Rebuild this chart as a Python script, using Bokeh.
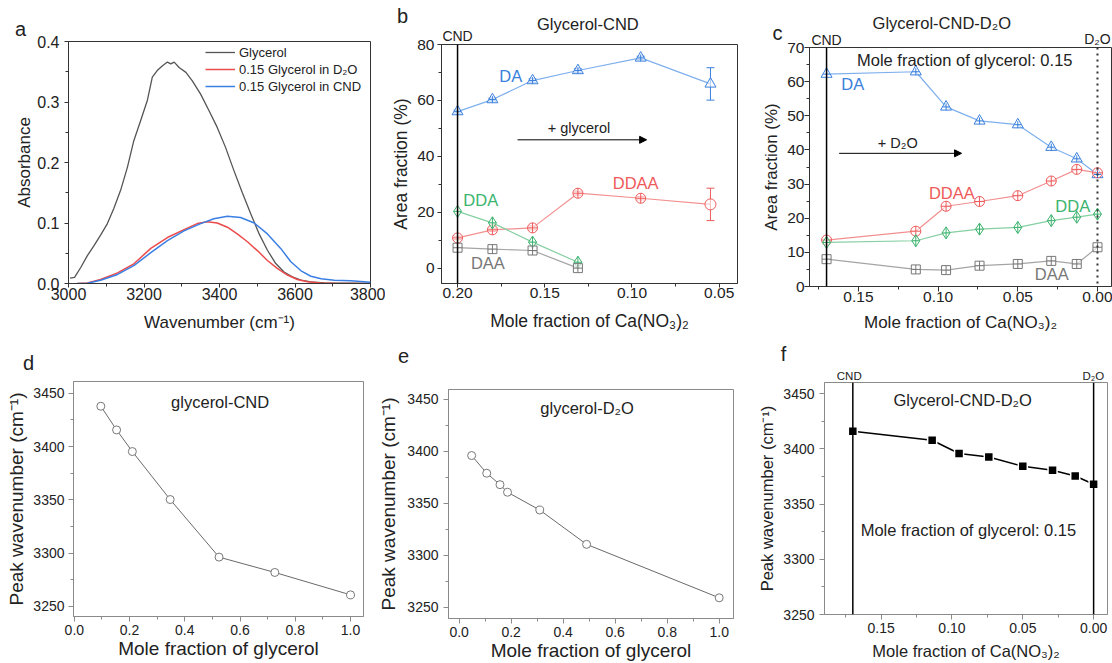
from bokeh.plotting import figure
from bokeh.layouts import column, row
from bokeh.models import (Range1d, Span, Label, Arrow, NormalHead, Whisker, TeeHead,
                          ColumnDataSource, SingleIntervalTicker, NumeralTickFormatter,
                          Legend, LegendItem)
from bokeh.embed import file_html
from bokeh.resources import INLINE

FONT = "Liberation Sans"
PAGE_W, PAGE_H = 1112, 663

# ---------------- data ----------------
# panel a : FTIR spectra
wn_gly = [3004, 3016, 3032, 3050, 3068, 3085, 3103, 3120, 3138, 3156, 3173, 3191, 3209, 3222,
          3235, 3249, 3262, 3271, 3280, 3293, 3311, 3328, 3350, 3372, 3394, 3416, 3438, 3460,
          3483, 3505, 3527, 3549, 3571, 3593, 3616, 3642, 3677, 3748, 3800]
abs_gly = [0.009, 0.010, 0.026, 0.046, 0.063, 0.080, 0.099, 0.124, 0.154, 0.192, 0.236, 0.269,
           0.303, 0.341, 0.352, 0.360, 0.366, 0.363, 0.366, 0.357, 0.349, 0.335, 0.313, 0.286,
           0.258, 0.225, 0.187, 0.151, 0.115, 0.082, 0.055, 0.033, 0.019, 0.011, 0.0055, 0.0027,
           0.001, 0.0005, 0.0]
wn_d2o = [3023, 3050, 3085, 3130, 3174, 3218, 3262, 3306, 3341, 3368, 3394, 3421, 3447, 3474,
          3501, 3527, 3553, 3580, 3606, 3633, 3668, 3704, 3800]
abs_d2o = [0.0, 0.001, 0.0066, 0.0176, 0.033, 0.058, 0.076, 0.089, 0.099, 0.102, 0.100, 0.093,
           0.082, 0.069, 0.054, 0.038, 0.025, 0.014, 0.0066, 0.003, 0.001, 0.0005, 0.0]
wn_cnd = [3023, 3050, 3085, 3130, 3174, 3218, 3262, 3306, 3350, 3385, 3421, 3456, 3492, 3527,
          3562, 3589, 3616, 3642, 3669, 3704, 3748, 3800]
abs_cnd = [0.0, 0.0005, 0.0055, 0.015, 0.030, 0.051, 0.071, 0.087, 0.099, 0.107, 0.111, 0.109,
           0.100, 0.082, 0.058, 0.036, 0.021, 0.012, 0.0077, 0.0055, 0.0044, 0.002]

# panel b : Glycerol-CND
xb = [0.200, 0.180, 0.157, 0.131, 0.095, 0.055]
b_DA = [56.0, 60.3, 67.1, 70.7, 75.2, 65.9]
b_DDAA = [10.8, 13.7, 14.4, 26.8, 25.0, 22.8]
xb_short = [0.200, 0.180, 0.157, 0.131]
b_DDA = [20.3, 16.2, 9.3, 2.1]
b_DAA = [7.3, 6.8, 6.3, 0.0]
b_DA_err = [0.5, 0.5, 0.6, 0.6, 0.6, 5.8]
b_DDAA_err = [0.6, 0.6, 0.7, 0.7, 0.6, 5.8]

# panel c : Glycerol-CND-D2O
xc = [0.170, 0.114, 0.095, 0.074, 0.050, 0.029, 0.013, 0.000]
c_DA = [62.2, 62.9, 52.6, 48.5, 47.4, 40.8, 37.4, 32.8]
c_DDAA = [13.6, 16.2, 23.5, 24.9, 26.6, 30.9, 34.3, 33.3]
c_DDA = [12.9, 13.4, 15.7, 16.8, 17.3, 19.3, 20.3, 21.2]
c_DAA = [8.0, 5.0, 4.8, 6.1, 6.6, 7.5, 6.6, 11.5]

# panel d : glycerol-CND peak position
xd = [0.096, 0.153, 0.210, 0.347, 0.524, 0.726, 1.0]
yd = [3437.8, 3415.6, 3395.3, 3350.3, 3296.3, 3281.9, 3260.9]

# panel e : glycerol-D2O peak position
xe = [0.048, 0.106, 0.157, 0.186, 0.310, 0.490, 1.0]
ye = [3396.1, 3379.1, 3368.1, 3360.8, 3343.7, 3310.7, 3259.3]

# panel f : Glycerol-CND-D2O peak position
xf = [0.170, 0.114, 0.095, 0.074, 0.050, 0.029, 0.013, 0.000]
yf = [3415.9, 3407.7, 3395.7, 3392.6, 3384.2, 3380.6, 3375.4, 3367.9]

# colours
C_DA, C_DA_L = "#3b80dc", "#7fb0ee"
C_DDAA, C_DDAA_L = "#ee5a5a", "#f29090"
C_DDA, C_DDA_L = "#3cb36e", "#86cfa2"
C_DAA, C_DAA_L = "#777777", "#a5a5a5"

GEOM = {}


def make_fig(name, x0, y0, w, h, left, right, top, bottom, xr, yr, xlabel, ylabel,
             tick_size, lab_size, frame_col, xint, yint, xfmt, yfmt, tick_out=5, xls=3,
             yls=5, xas=6, yas=3):
    p = figure(width=w, height=h, output_backend="svg", toolbar_location=None,
               x_range=xr, y_range=yr, min_border_left=left, min_border_right=right,
               min_border_top=top, min_border_bottom=bottom)
    p.frame_align = False
    p.xgrid.visible = False
    p.ygrid.visible = False
    p.outline_line_color = frame_col
    p.outline_line_width = 1
    p.background_fill_color = "white"
    p.border_fill_color = "white"
    p.xaxis.ticker = SingleIntervalTicker(interval=xint, num_minor_ticks=2)
    p.yaxis.ticker = SingleIntervalTicker(interval=yint, num_minor_ticks=2)
    p.xaxis.formatter = NumeralTickFormatter(format=xfmt)
    p.yaxis.formatter = NumeralTickFormatter(format=yfmt)
    p.xaxis.axis_label = xlabel
    p.yaxis.axis_label = ylabel
    for ax in p.axis:
        ax.axis_line_color = frame_col
        ax.major_tick_line_color = frame_col
        ax.minor_tick_line_color = frame_col
        ax.major_tick_out = tick_out
        ax.major_tick_in = 0
        ax.minor_tick_out = 3
        ax.minor_tick_in = 0
        ax.major_label_text_font = FONT
        ax.major_label_text_font_size = f"{tick_size}px"
        ax.major_label_text_color = "#222222"
        ax.axis_label_text_font = FONT
        ax.axis_label_text_font_size = f"{lab_size}px"
        ax.axis_label_text_font_style = "normal"
        ax.axis_label_text_color = "#222222"
    p.xaxis.major_label_standoff = xls
    p.yaxis.major_label_standoff = yls
    p.xaxis.axis_label_standoff = xas
    p.yaxis.axis_label_standoff = yas
    GEOM[name] = (x0, y0, w, h, left, right, top, bottom, xr, yr)
    return p


def page_x(name, x):
    """page pixel of data value x in panel `name` (same linear map as the panel)."""
    x0, y0, w, h, left, right, top, bottom, xr, yr = GEOM[name]
    fw = w - left - right
    return x0 + left + (x - xr.start) / (xr.end - xr.start) * fw


def frame_left(name):
    g = GEOM[name]
    return g[0] + g[4]


def frame_top(name):
    g = GEOM[name]
    return g[1] + g[6]


def lab(p, x, y, text, size, color="#222222", xo=0, yo=0, align="center"):
    p.add_layout(Label(x=x, y=y, text=text, x_offset=xo, y_offset=yo, text_font=FONT,
                       text_font_size=f"{size}px", text_color=color, text_align=align,
                       text_baseline="middle"))


# ---------------- panel a ----------------
pa = make_fig("a", 0, 0, 385, 340, 68, 15, 41, 57, Range1d(3000, 3800), Range1d(0, 0.4),
              "Wavenumber (cm⁻¹)", "Absorbance", 16, 17, "#333333", 200, 0.1, "0", "0.0",
              tick_out=4, xls=0, yls=5, xas=10, yas=0)
ra1 = pa.line(wn_gly, abs_gly, line_color="#555555", line_width=1.3)
ra2 = pa.line(wn_d2o, abs_d2o, line_color="#ec4b4b", line_width=1.5)
ra3 = pa.line(wn_cnd, abs_cnd, line_color="#3a7fe3", line_width=1.5)
leg = Legend(items=[LegendItem(label="Glycerol", renderers=[ra1]),
                    LegendItem(label="0.15 Glycerol in D₂O", renderers=[ra2]),
                    LegendItem(label="0.15 Glycerol in CND", renderers=[ra3])],
             location="top_right", margin=0, padding=3, spacing=1, glyph_width=30,
             glyph_height=16, label_height=16, label_width=128, label_standoff=4,
             label_text_font=FONT, label_text_font_size="13px", label_text_color="#222222",
             border_line_alpha=0, background_fill_alpha=0)
pa.add_layout(leg)

# ---------------- panel b ----------------
pb = make_fig("b", 385, 0, 370, 340, 56, 18, 44, 57, Range1d(0.2092, 0.0395),
              Range1d(-5.5, 80), "Mole fraction of Ca(NO₃)₂", "Area fraction (%)", 15.5,
              17.5, "#333333", 0.05, 20, "0.00", "0", tick_out=4, xls=0, yls=3, xas=10,
              yas=3)
pb.add_layout(Span(location=xb[0], dimension="height", line_color="black", line_width=1.5))
pb.line(xb, b_DA, line_color=C_DA_L, line_width=1.2)
pb.line(xb, b_DDAA, line_color=C_DDAA_L, line_width=1.2)
pb.line(xb_short, b_DDA, line_color=C_DDA_L, line_width=1.2)
pb.line(xb_short, b_DAA, line_color=C_DAA_L, line_width=1.2)
pb.scatter(xb, b_DA, marker="triangle", size=11, fill_color="white", fill_alpha=0.6,
           line_color=C_DA, line_width=1)
pb.scatter(xb[:-1], b_DA[:-1], marker="cross", size=7, line_color=C_DA, line_width=1)
pb.scatter(xb[:-1], b_DDAA[:-1], marker="circle_cross", size=10, fill_color="white",
           fill_alpha=0.6, line_color=C_DDAA, line_width=1)
pb.scatter(xb[-1:], b_DDAA[-1:], marker="circle", size=11, fill_color="white",
           fill_alpha=0.6, line_color=C_DDAA, line_width=1)
pb.scatter(xb_short, b_DDA, marker="diamond_cross", size=12, fill_color="white",
           fill_alpha=0.6, line_color=C_DDA, line_width=1)
pb.scatter(xb_short, b_DAA, marker="square_cross", size=9, fill_color="white",
           fill_alpha=0.6, line_color=C_DAA, line_width=1)
for vals, errs, col in ((b_DA, b_DA_err, C_DA), (b_DDAA, b_DDAA_err, C_DDAA)):
    src = ColumnDataSource(dict(x=xb, lo=[v - e for v, e in zip(vals, errs)],
                                hi=[v + e for v, e in zip(vals, errs)]))
    pb.add_layout(Whisker(source=src, base="x", lower="lo", upper="hi", dimension="height",
                          line_color=col, line_width=1,
                          upper_head=TeeHead(size=8, line_color=col, line_width=1),
                          lower_head=TeeHead(size=8, line_color=col, line_width=1)))
pb.add_layout(Arrow(end=NormalHead(size=7, fill_color="black", line_color="black"),
                    x_start=0.1656, y_start=45.9, x_end=0.0916, y_end=45.9,
                    line_color="black", line_width=1))
lab(pb, 0.1304, 50.0, "+ glycerol", 14.5)
lab(pb, 0.1695, 68.6, "DA", 16.5, C_DA)
lab(pb, 0.1867, 24.2, "DDA", 16.5, C_DDA)
lab(pb, 0.0979, 30.3, "DDAA", 16.5, C_DDAA)
lab(pb, 0.1826, 1.7, "DAA", 16.5, C_DAA)

# ---------------- panel c ----------------
pc = make_fig("c", 755, 0, 357, 340, 54, 1, 47, 54, Range1d(0.1807, -0.0088),
              Range1d(0, 70), "Mole fraction of Ca(NO₃)₂", "Area fraction (%)", 15.5, 17,
              "#333333", 0.05, 10, "0.00", "0", tick_out=5, xls=0, yls=0, xas=8, yas=3)
pc.add_layout(Span(location=xc[0], dimension="height", line_color="black", line_width=1.5))
pc.add_layout(Span(location=xc[-1], dimension="height", line_color="#333333", line_width=2,
                   line_dash="2 4"))
for ys, lc, mc, mk, sz in ((c_DA, C_DA_L, C_DA, "triangle", 11),
                           (c_DDAA, C_DDAA_L, C_DDAA, "circle_cross", 10),
                           (c_DDA, C_DDA_L, C_DDA, "diamond_cross", 12),
                           (c_DAA, C_DAA_L, C_DAA, "square_cross", 9)):
    pc.line(xc, ys, line_color=lc, line_width=1.2)
    pc.scatter(xc, ys, marker=mk, size=sz, fill_color="white", fill_alpha=0.6,
               line_color=mc, line_width=1)
pc.scatter(xc, c_DA, marker="cross", size=7, line_color=C_DA, line_width=1)
pc.add_layout(Arrow(end=NormalHead(size=7, fill_color="black", line_color="black"),
                    x_start=0.1621, y_start=39.0, x_end=0.0853, y_end=39.0,
                    line_color="black", line_width=1))
lab(pc, 0.1253, 41.9, "+ D₂O", 14.5)
lab(pc, 0.0833, 66.3, "Mole fraction of glycerol: 0.15", 16.5)
lab(pc, 0.1536, 59.4, "DA", 16.5, C_DA)
lab(pc, 0.0914, 27.5, "DDAA", 16.5, C_DDAA)
lab(pc, 0.0155, 23.7, "DDA", 16.5, C_DDA)
lab(pc, 0.0287, 3.7, "DAA", 16.5, C_DAA)

# ---------------- panel d ----------------
pd_ = make_fig("d", 0, 340, 375, 323, 73, 12, 41, 47, Range1d(-0.003, 1.047),
               Range1d(3240.6, 3461), "Mole fraction of glycerol", "Peak wavenumber (cm⁻¹)",
               14, 19, "#8a8a8a", 0.2, 50, "0.0", "0", tick_out=5, xls=3, yls=4, xas=0,
               yas=3)
pd_.line(xd, yd, line_color="#6a6a6a", line_width=1)
pd_.scatter(xd, yd, marker="circle", size=8, fill_color="white", line_color="#777777",
            line_width=1)
lab(pd_, 0.528, 3441.6, "glycerol-CND", 16.5)

# ---------------- panel e ----------------
pe = make_fig("e", 375, 340, 380, 323, 72, 22, 49, 45, Range1d(-0.041, 1.055),
              Range1d(3239.4, 3459.6), "Mole fraction of glycerol", "Peak wavenumber (cm⁻¹)",
              14, 19, "#8a8a8a", 0.2, 50, "0.0", "0", tick_out=5, xls=3, yls=5, xas=0,
              yas=5)
pe.line(xe, ye, line_color="#6a6a6a", line_width=1)
pe.scatter(xe, ye, marker="circle", size=8, fill_color="white", line_color="#777777",
           line_width=1)
lab(pe, 0.492, 3442, "glycerol-D₂O", 16.5)

# ---------------- panel f ----------------
pf = make_fig("f", 755, 340, 357, 323, 65, 5, 42, 49, Range1d(0.19, -0.0098),
              Range1d(3250, 3460), "Mole fraction of Ca(NO₃)₂", "Peak wavenumber (cm⁻¹)",
              14, 16.5, "#8a8a8a", 0.05, 50, "0.00", "0", tick_out=5, xls=3, yls=5, xas=6,
              yas=4)
pf.add_layout(Span(location=xf[0], dimension="height", line_color="black", line_width=1.5))
pf.add_layout(Span(location=xf[-1], dimension="height", line_color="black", line_width=1.5))
pf.line(xf, yf, line_color="black", line_width=1.5)
pf.scatter(xf, yf, marker="square", size=9, fill_color="black", line_color="white",
           line_width=1.5)
lab(pf, 0.0925, 3444.6, "Glycerol-CND-D₂O", 16.5)
lab(pf, 0.0884, 3326.9, "Mole fraction of glycerol: 0.15", 16.5)

# ---------------- transparent overlay for texts outside the plot frames ----------------
ov = figure(width=PAGE_W, height=PAGE_H, output_backend="svg", toolbar_location=None,
            x_range=Range1d(0, PAGE_W), y_range=Range1d(PAGE_H, 0), x_axis_location=None,
            y_axis_location=None, min_border=0, min_border_left=0, min_border_right=0,
            min_border_top=0, min_border_bottom=0, margin=(-PAGE_H, 0, 0, 0))
ov.frame_align = False
ov.outline_line_color = None
ov.grid.visible = False
ov.background_fill_color = None
ov.border_fill_color = None

# panel letters (px offsets from each frame's top-left corner)
for name, dx, dy in (("a", -48, -13), ("b", -39, -29), ("c", -32, -15),
                     ("d", -45, -19), ("e", -44, -34), ("f", -37, -29)):
    lab(ov, frame_left(name) + dx, frame_top(name) + dy, name, 20)
# panel titles
lab(ov, page_x("b", 0.1253), frame_top("b") - 21, "Glycerol-CND", 16.5)
lab(ov, page_x("c", 0.0977), frame_top("c") - 25, "Glycerol-CND-D₂O", 16.5)
# end-member markers above the vertical lines
lab(ov, page_x("b", xb[0]), frame_top("b") - 9, "CND", 14)
lab(ov, page_x("c", xc[0]), frame_top("c") - 8, "CND", 14)
lab(ov, page_x("c", xc[-1]), frame_top("c") - 9, "D₂O", 14)
lab(ov, page_x("f", xf[0]), frame_top("f") - 7, "CND", 11.5)
lab(ov, page_x("f", xf[-1]), frame_top("f") - 7, "D₂O", 11.5)

grid = column(row(pa, pb, pc), row(pd_, pe, pf))
layout = column(grid, ov)
open("out.html", "w").write(file_html(layout, INLINE))
